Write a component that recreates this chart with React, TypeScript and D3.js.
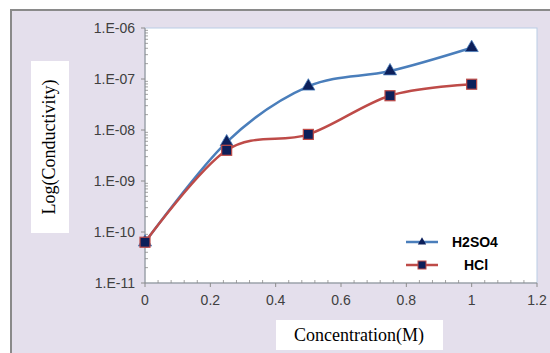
import React, { useEffect, useRef } from "react";
import * as d3 from "d3";

// concentration values (M)
const concentrations = [0, 0.25, 0.5, 0.75, 1];
// conductivity
const h2so4Values = [6.3e-11, 5.8e-9, 7.2e-8, 1.43e-7, 4.1e-7];
const hclValues = [6.3e-11, 4.0e-9, 8.2e-9, 4.7e-8, 7.9e-8];

const xTicks = [0, 0.2, 0.4, 0.6, 0.8, 1, 1.2];
const yTicks = [1e-11, 1e-10, 1e-9, 1e-8, 1e-7, 1e-6];
const yTickLabels = ["1.E-11", "1.E-10", "1.E-09", "1.E-08", "1.E-07", "1.E-06"];

const seriesNames = ["H2SO4", "HCl"];

const App = () => {
    const svgRef = useRef<SVGSVGElement | null>(null);

    useEffect(() => {
        const svg = d3.select(svgRef.current);
        svg.selectAll("*").remove();

        const W = 550, H = 353;
        const left = 145, right = 537, top = 28, bottom = 283;

        // background frame
        svg.append("rect").attr("x", 11).attr("y", 10).attr("width", W).attr("height", H)
            .attr("fill", "#e4dfec").attr("stroke", "#8a8a8a").attr("stroke-width", 2);

        // plot area
        svg.append("rect").attr("x", left).attr("y", top)
            .attr("width", right - left).attr("height", bottom - top)
            .attr("fill", "#ffffff").attr("stroke", "#b9cde5").attr("stroke-width", 1);

        const x = d3.scaleLinear().domain([0, 1.2]).range([left, right]);
        const y = d3.scaleLog().domain([1e-11, 1e-6]).range([bottom, top]);

        const axisColor = "#8c8c8c";

        // y axis line + ticks
        svg.append("line").attr("x1", left).attr("x2", left).attr("y1", top).attr("y2", bottom)
            .attr("stroke", axisColor);
        yTicks.forEach((t, i) => {
            svg.append("line").attr("x1", left - 4).attr("x2", left)
                .attr("y1", y(t)).attr("y2", y(t)).attr("stroke", axisColor);
            svg.append("text").attr("x", 135).attr("y", y(t)).attr("dy", "0.35em")
                .attr("text-anchor", "end").attr("font-family", "Liberation Sans, Arial, sans-serif")
                .attr("font-size", 14).attr("fill", "#404040").text(yTickLabels[i]);
        });
        // minor log ticks
        for (let e = -11; e < -6; e++) {
            for (let m = 2; m <= 9; m++) {
                const v = m * Math.pow(10, e);
                svg.append("line").attr("x1", left).attr("x2", left + 3)
                    .attr("y1", y(v)).attr("y2", y(v)).attr("stroke", axisColor).attr("stroke-width", 0.8);
            }
        }

        // x axis line + ticks
        svg.append("line").attr("x1", left).attr("x2", right).attr("y1", bottom).attr("y2", bottom)
            .attr("stroke", axisColor);
        xTicks.forEach((t) => {
            svg.append("line").attr("x1", x(t)).attr("x2", x(t)).attr("y1", bottom).attr("y2", bottom + 4)
                .attr("stroke", axisColor);
            svg.append("text").attr("x", x(t)).attr("y", 305)
                .attr("text-anchor", "middle").attr("font-family", "Liberation Sans, Arial, sans-serif")
                .attr("font-size", 14).attr("fill", "#404040").text(d3.format("")(t));
        });
        d3.range(0, 31).forEach((k) => {
            if (k % 5 === 0) return;
            const xv = x(k * 0.04);
            svg.append("line").attr("x1", xv).attr("x2", xv).attr("y1", bottom - 3).attr("y2", bottom)
                .attr("stroke", axisColor).attr("stroke-width", 0.8);
        });

        // axis titles
        svg.append("rect").attr("x", 31).attr("y", 61).attr("width", 38).attr("height", 172).attr("fill", "#ffffff");
        svg.append("text").attr("transform", "translate(55,147) rotate(-90)")
            .attr("text-anchor", "middle").attr("font-family", "Liberation Serif, Times New Roman, serif")
            .attr("font-size", 18).attr("fill", "#000").text("Log(Conductivity)");

        svg.append("rect").attr("x", 276).attr("y", 320).attr("width", 167).attr("height", 30).attr("fill", "#ffffff");
        svg.append("text").attr("x", 359).attr("y", 341)
            .attr("text-anchor", "middle").attr("font-family", "Liberation Serif, Times New Roman, serif")
            .attr("font-size", 18).attr("fill", "#000").text("Concentration(M)");

        // Excel-like smoothed line
        const line = d3.line<number>()
            .x((_, i) => x(concentrations[i]))
            .y((d) => y(d))
            .curve(d3.curveCardinal.tension(0));

        const navy = "#0c1f5a";
        const blue = "#4a7ebb";
        const red = "#be4b48";

        // H2SO4
        svg.append("path").datum(h2so4Values).attr("d", line).attr("fill", "none")
            .attr("stroke", blue).attr("stroke-width", 2.5);
        const tri = d3.symbol().type(d3.symbolTriangle).size(75);
        h2so4Values.forEach((v, i) => {
            svg.append("path").attr("d", tri).attr("transform", `translate(${x(concentrations[i])},${y(v)})`)
                .attr("fill", navy).attr("stroke", blue).attr("stroke-width", 0.8);
        });

        // HCl
        svg.append("path").datum(hclValues).attr("d", line).attr("fill", "none")
            .attr("stroke", red).attr("stroke-width", 2.5);
        hclValues.forEach((v, i) => {
            svg.append("rect").attr("x", x(concentrations[i]) - 5).attr("y", y(v) - 5)
                .attr("width", 10).attr("height", 10)
                .attr("fill", navy).attr("stroke", red).attr("stroke-width", 1.2);
        });

        // legend
        const legY = [242, 265];
        const legText = [452, 464];
        seriesNames.forEach((name, i) => {
            const c = i === 0 ? blue : red;
            svg.append("line").attr("x1", 406).attr("x2", 438).attr("y1", legY[i]).attr("y2", legY[i])
                .attr("stroke", c).attr("stroke-width", 2.5);
            if (i === 0) {
                svg.append("path").attr("d", d3.symbol().type(d3.symbolTriangle).size(30))
                    .attr("transform", `translate(422,${legY[i]})`).attr("fill", navy);
            } else {
                svg.append("rect").attr("x", 418).attr("y", legY[i] - 4).attr("width", 8).attr("height", 8)
                    .attr("fill", navy).attr("stroke", red);
            }
            svg.append("text").attr("x", legText[i]).attr("y", legY[i]).attr("dy", "0.35em")
                .attr("font-family", "Liberation Sans, Arial, sans-serif").attr("font-weight", "bold")
                .attr("font-size", 14).attr("fill", "#000")
                .text(name);
        });
    }, []);

    return (
        <svg ref={svgRef} width={550} height={353}
            style={{ position: "absolute", left: 0, top: 0, display: "block" }} />
    );
};

export default App;
